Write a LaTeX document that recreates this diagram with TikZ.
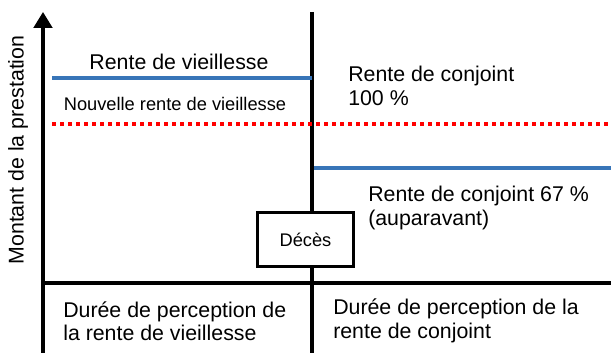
\documentclass[tikz,border=0pt]{standalone}
\usepackage{fontspec}
\setmainfont{Liberation Sans}
\usetikzlibrary{positioning, arrows.meta}
\definecolor{renteblue}{RGB}{56,117,184}

\tikzset{
  axe/.style={line width=2.3pt},
  rente/.style={line width=3pt, renteblue},
  nouvelle/.style={line width=3pt, red, dash pattern=on 3pt off 3pt},
  grand/.style={font=\fontsize{16}{17.5}\selectfont, inner sep=0pt},
  petit/.style={font=\fontsize{13.7}{16}\selectfont, inner sep=0pt}
}

\begin{document}
\begin{tikzpicture}[x=0.75pt, y=0.75pt]
\useasboundingbox (0,0) rectangle (611,353);

% axes
\coordinate (o) at (43,70);
\coordinate (top) at (43,341);
\coordinate (bas) at (43,0);
\coordinate (fin) at (611,70);
\coordinate (dtop) at (312,341);
\coordinate (dbas) at (312,0);
\draw[axe, -{Triangle[width=14pt, length=12pt]}] (o) -- (top);
\draw[axe] (o) -- (bas);
\draw[axe] (42,70) -- (fin);
\draw[axe] (dtop) -- (dbas);

% rentes
\coordinate (v1) at (52,275);
\coordinate (v2) at (312,275);
\coordinate (n1) at (52,229);
\coordinate (n2) at (611,229);
\coordinate (c1) at (314,185);
\coordinate (c2) at (611,185);
\draw[rente] (v1) -- (v2);
\draw[nouvelle] (n1) -- (n2);
\draw[rente] (c1) -- (c2);

\node[draw, fill=white, line width=2.3pt, minimum width=72pt, minimum height=41pt, petit] (deces) at (305.5,113.5) {Décès};

\node[grand] (vieil) at (179,291) {Rente de vieillesse};
\node[petit] (nouv) at (175,249) {Nouvelle rente de vieillesse};
\node[grand, anchor=west, align=left] (conj100) at (348,267) {Rente de conjoint\\100 \%};
\node[grand, anchor=west, align=left] (conj67) at (368,145) {Rente de conjoint 67 \%\\(auparavant)};
\node[grand, rotate=90] (montant) at (18,203) {Montant de la prestation};
\node[grand, anchor=west, align=left] (dureeV) at (63,32) {Durée de perception de\\la rente de vieillesse};
\node[grand, anchor=west, align=left] (dureeC) at (333,32) {Durée de perception de la\\rente de conjoint};
\end{tikzpicture}
\end{document}
